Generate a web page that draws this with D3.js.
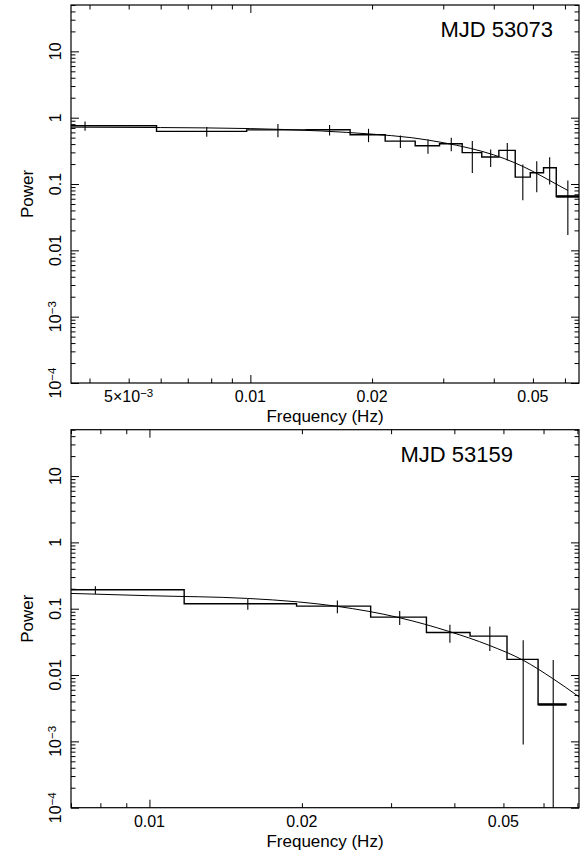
<!DOCTYPE html>
<html>
<head>
<meta charset="utf-8">
<script src="https://cdn.jsdelivr.net/npm/d3@7"></script>
<style>
    body { margin: 0; background: #fff; }
    svg text { font-family: "Liberation Sans", Arial, Helvetica, sans-serif; fill: #000; }
    .frame { fill: none; stroke: #000; stroke-width: 1.2; }
    .tick line { stroke: #000; stroke-width: 1; }
    .hist { fill: none; stroke: #000; stroke-width: 1.4; }
    .err { stroke: #000; stroke-width: 1.1; }
    .model { fill: none; stroke: #000; stroke-width: 1; }
</style>
</head>
<body>
<div id="chart"></div>
<script>
// ---- MJD 53073 (top) ----
var topBinEdges = [0.00196, 0.00586, 0.00979, 0.01374, 0.01765, 0.02155, 0.02557, 0.02937,
                   0.03342, 0.03736, 0.04118, 0.0452, 0.04924, 0.05311, 0.0571, 0.065];
var topFreq  = [0.0039, 0.0078, 0.0117, 0.0157, 0.0196, 0.0235, 0.0275, 0.0314,
                0.0354, 0.0393, 0.0432, 0.0472, 0.0511, 0.055, 0.061];
var topPower = [0.757, 0.621, 0.655, 0.659, 0.554, 0.444, 0.378, 0.405,
                0.297, 0.255, 0.321, 0.127, 0.148, 0.176, 0.065];
var topError = [0.12, 0.105, 0.15, 0.12, 0.126, 0.094, 0.093, 0.093,
                0.15, 0.075, 0.094, 0.07, 0.073, 0.078, 0.048];
var topModelFreq  = [0.0036, 0.006, 0.01, 0.015, 0.02, 0.025, 0.03, 0.035, 0.04, 0.045, 0.05, 0.055, 0.061];
var topModelPower = [0.72, 0.71, 0.685, 0.63, 0.565, 0.50, 0.42, 0.345, 0.275, 0.21, 0.155, 0.113, 0.08];

// ---- MJD 53159 (bottom) ----
var botBinEdges = [0.0039, 0.01171, 0.01952, 0.02734, 0.03523, 0.04296, 0.05082, 0.05853, 0.06662];
var botFreq  = [0.00782, 0.01564, 0.0235, 0.0312, 0.0392, 0.047, 0.0547, 0.0627];
var botPower = [0.193, 0.1186, 0.1094, 0.0747, 0.0439, 0.0386, 0.0172, 0.0036];
var botError = [0.026, 0.022, 0.024, 0.018, 0.0133, 0.0155, 0.0163, 0.0132];
var botModelFreq  = [0.007, 0.01, 0.0156, 0.0196, 0.0234, 0.0312, 0.0392, 0.0469, 0.0547, 0.0625, 0.0705];
var botModelPower = [0.170, 0.157, 0.143, 0.127, 0.109, 0.073, 0.045, 0.028, 0.0167, 0.0089, 0.0047];

// axis ticks and labels
var yTickValues = [1e-4, 1e-3, 0.01, 0.1, 1, 10];
var yTickLabels = [["10", "\u22124"], ["10", "\u22123"], ["0.01"], ["0.1"], ["1"], ["10"]];
var topXTickValues = [0.005, 0.01, 0.02, 0.05];
var topXTickLabels = [["5\u00d710", "\u22123"], ["0.01"], ["0.02"], ["0.05"]];
var botXTickValues = [0.01, 0.02, 0.05];
var botXTickLabels = [["0.01"], ["0.02"], ["0.05"]];

var panels = [
    {title: "MJD 53073", top: 5, xDomain: [0.0036, 0.065],
     edges: topBinEdges, freq: topFreq, power: topPower, error: topError,
     modelFreq: topModelFreq, modelPower: topModelPower,
     xTicks: topXTickValues, xLabels: topXTickLabels, titleDx: -26},
    {title: "MJD 53159", top: 429.7, xDomain: [0.007, 0.0705],
     edges: botBinEdges, freq: botFreq, power: botPower, error: botError,
     modelFreq: botModelFreq, modelPower: botModelPower,
     xTicks: botXTickValues, xLabels: botXTickLabels, titleDx: -66}
];

var W = 587, H = 854;
var left = 71, right = 579, plotH = 378;

var svg = d3.select("#chart").append("svg")
        .attr("width", W)
        .attr("height", H);

function addLabel(sel, parts, size) {
    sel.append("tspan").text(parts[0]);
    if (parts.length > 1) {
        sel.append("tspan")
                .attr("dy", "-0.45em")
                .attr("font-size", (size * 0.72) + "px")
                .text(parts[1]);
    }
}

panels.forEach(function (p, pi) {
    var x = d3.scaleLog().domain(p.xDomain).range([left, right]);
    var y = d3.scaleLog().domain([1e-4, 50]).range([p.top + plotH, p.top]);
    var bottom = p.top + plotH;

    var g = svg.append("g");

    var clipId = "clip" + pi;
    g.append("clipPath").attr("id", clipId)
            .append("rect")
            .attr("x", left).attr("y", p.top)
            .attr("width", right - left).attr("height", plotH);

    // minor / major ticks, inward on all four sides
    var xAll = x.ticks();
    var xMajor = xAll.filter(function (d) { return Math.abs(Math.log10(d) - Math.round(Math.log10(d))) < 1e-6; });
    var xMinor = xAll.filter(function (d) { return xMajor.indexOf(d) < 0; });
    var yAll = y.ticks();
    var yMajor = yTickValues;
    var yMinor = yAll.filter(function (d) {
        return Math.abs(Math.log10(d) - Math.round(Math.log10(d))) > 1e-6;
    });

    function drawAxis(axisFn, scale, values, len, transform) {
        g.append("g")
                .attr("transform", transform)
                .call(axisFn(scale).tickValues(values).tickSize(-len).tickSizeOuter(0).tickFormat(""))
                .call(function (s) { s.select(".domain").remove(); });
    }
    drawAxis(d3.axisBottom, x, xMinor, 4.5, "translate(0," + bottom + ")");
    drawAxis(d3.axisBottom, x, xMajor, 8, "translate(0," + bottom + ")");
    drawAxis(d3.axisTop, x, xMinor, 4.5, "translate(0," + p.top + ")");
    drawAxis(d3.axisTop, x, xMajor, 8, "translate(0," + p.top + ")");
    drawAxis(d3.axisLeft, y, yMinor, 4.5, "translate(" + left + ",0)");
    drawAxis(d3.axisLeft, y, yMajor, 8, "translate(" + left + ",0)");
    drawAxis(d3.axisRight, y, yMinor, 4.5, "translate(" + right + ",0)");
    drawAxis(d3.axisRight, y, yMajor, 8, "translate(" + right + ",0)");

    g.append("rect").attr("class", "frame")
            .attr("x", left).attr("y", p.top)
            .attr("width", right - left).attr("height", plotH);

    // tick labels
    p.xTicks.forEach(function (v, i) {
        var t = g.append("text")
                .attr("x", x(v))
                .attr("y", bottom + 19)
                .attr("text-anchor", "middle")
                .attr("font-size", "16px");
        addLabel(t, p.xLabels[i], 16);
    });
    yTickValues.forEach(function (v, i) {
        var t = g.append("text")
                .attr("transform", "translate(61," + y(v) + ") rotate(-90)")
                .attr("text-anchor", "middle")
                .attr("font-size", "16px");
        addLabel(t, yTickLabels[i], 16);
    });

    g.append("text")
            .attr("x", (left + right) / 2)
            .attr("y", bottom + 39)
            .attr("text-anchor", "middle")
            .attr("font-size", "17px")
            .text("Frequency (Hz)");

    g.append("text")
            .attr("transform", "translate(33," + (p.top + plotH / 2) + ") rotate(-90)")
            .attr("text-anchor", "middle")
            .attr("font-size", "17px")
            .text("Power");

    g.append("text")
            .attr("x", right + p.titleDx)
            .attr("y", p.top + 32)
            .attr("text-anchor", "end")
            .attr("font-size", "22px")
            .text(p.title);

    var plot = g.append("g").attr("clip-path", "url(#" + clipId + ")");

    // histogram steps
    var steps = p.power.map(function (v, i) { return [p.edges[i], v]; });
    steps.push([p.edges[p.edges.length - 1], p.power[p.power.length - 1]]);
    plot.append("path")
            .attr("class", "hist")
            .attr("d", d3.line()
                    .x(function (d) { return x(d[0]); })
                    .y(function (d) { return y(d[1]); })
                    .curve(d3.curveStepAfter)(steps));

    var n = p.power.length - 1;
    plot.append("line")
            .attr("x1", x(p.edges[n])).attr("x2", x(p.edges[n + 1]))
            .attr("y1", y(p.power[n])).attr("y2", y(p.power[n]))
            .attr("stroke", "#000").attr("stroke-width", 2.4);

    // error bars
    plot.selectAll(".err")
            .data(p.power)
            .enter().append("line")
            .attr("class", "err")
            .attr("x1", function (d, i) { return x(p.freq[i]); })
            .attr("x2", function (d, i) { return x(p.freq[i]); })
            .attr("y1", function (d, i) { return y(d + p.error[i]); })
            .attr("y2", function (d, i) { return y(Math.max(d - p.error[i], 1e-5)); });

    // model
    var model = p.modelFreq.map(function (f, i) { return [f, p.modelPower[i]]; });
    plot.append("path")
            .attr("class", "model")
            .attr("d", d3.line()
                    .x(function (d) { return x(d[0]); })
                    .y(function (d) { return y(d[1]); })
                    .curve(d3.curveMonotoneX)(model));
});
</script>
</body>
</html>
